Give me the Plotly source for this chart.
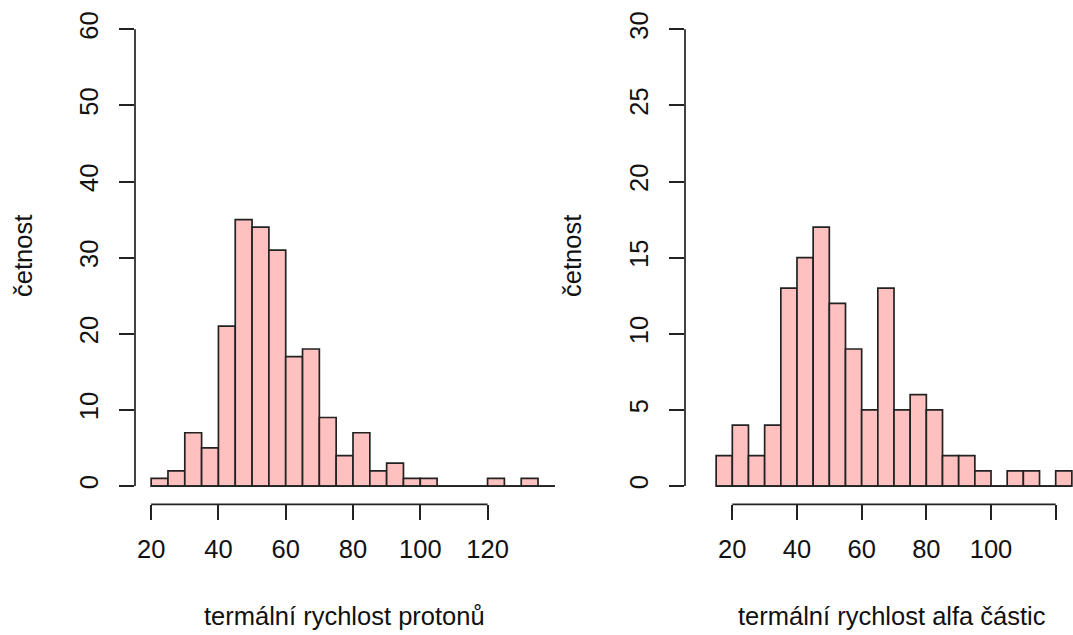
import plotly.graph_objects as go

# Histogram bins (width 5) and counts
proton_breaks = list(range(20, 145, 5))          # 20 .. 140
proton_counts = [1, 2, 7, 5, 21, 35, 34, 31, 17, 18, 9, 4,
                 7, 2, 3, 1, 1, 0, 0, 0, 1, 0, 1, 0]

alpha_breaks = list(range(15, 130, 5))           # 15 .. 125
alpha_counts = [2, 4, 2, 4, 13, 15, 17, 12, 9, 5, 13, 5,
                6, 5, 2, 2, 1, 0, 1, 1, 0, 1]

proton_xticks = [20, 40, 60, 80, 100, 120]
proton_xlabels = ["20", "40", "60", "80", "100", "120"]
proton_yticks = [0, 10, 20, 30, 40, 50, 60]

alpha_xticks = [20, 40, 60, 80, 100, 120]
alpha_xlabels = ["20", "40", "60", "80", "100", ""]
alpha_yticks = [0, 5, 10, 15, 20, 25, 30]

proton_xlab = "termální rychlost protonů"
alpha_xlab = "termální rychlost alfa částic"
ylab = "četnost"

W, H = 1073, 635
FONT = "Liberation Sans, Arial, sans-serif"
FS = 25.5
INK = "#222222"
TXT = "#111111"
LW = 1.7
FILL = "#FFC0C0"

# plot regions in pixels
L_X0, L_X1 = 135, 571
R_X0, R_X1 = 685, 1073
Y_TOP, Y_BOT = 11, 504.3

def px(xp):
    return xp / W

def py(yp):
    return 1 - yp / H

ydom = [py(Y_BOT), py(Y_TOP)]

def centers(breaks):
    return [(a + b) / 2 for a, b in zip(breaks[:-1], breaks[1:])]

fig = go.Figure()

bar_style = dict(color=FILL, line=dict(color=INK, width=LW))

fig.add_trace(go.Bar(x=centers(proton_breaks), y=proton_counts, width=5,
                     marker=bar_style, xaxis="x", yaxis="y"))
fig.add_trace(go.Scatter(x=[proton_breaks[0], proton_breaks[-1]], y=[0, 0],
                         mode="lines", line=dict(color=INK, width=LW),
                         xaxis="x", yaxis="y"))

fig.add_trace(go.Bar(x=centers(alpha_breaks), y=alpha_counts, width=5,
                     marker=bar_style, xaxis="x2", yaxis="y2"))
fig.add_trace(go.Scatter(x=[alpha_breaks[0], alpha_breaks[-1]], y=[0, 0],
                         mode="lines", line=dict(color=INK, width=LW),
                         xaxis="x2", yaxis="y2"))

tick_common = dict(showgrid=False, zeroline=False, showline=False,
                   ticks="outside", ticklen=15, tickwidth=LW, tickcolor=INK,
                   tickfont=dict(family=FONT, size=FS, color=TXT),
                   fixedrange=True)

fig.update_layout(
    width=W, height=H,
    margin=dict(l=0, r=0, t=0, b=0),
    paper_bgcolor="white", plot_bgcolor="white",
    showlegend=False,
    font=dict(family=FONT, size=FS, color=TXT),
    xaxis=dict(domain=[px(L_X0), px(L_X1)], range=[15.2, 144.8],
               tickmode="array", tickvals=proton_xticks, ticktext=proton_xlabels,
               ticklabelstandoff=7, anchor="y", **tick_common),
    yaxis=dict(domain=ydom, range=[-2.4, 62.4],
               tickmode="array", tickvals=proton_yticks, tickangle=-90,
               ticklabelstandoff=11, anchor="x", **tick_common),
    xaxis2=dict(domain=[px(R_X0), px(R_X1)], range=[5.37, 125.35],
                tickmode="array", tickvals=alpha_xticks, ticktext=alpha_xlabels,
                ticklabelstandoff=7, anchor="y2", **tick_common),
    yaxis2=dict(domain=ydom, range=[-1.2, 31.2],
                tickmode="array", tickvals=alpha_yticks, tickangle=-90,
                ticklabelstandoff=11, anchor="x2", **tick_common),
)

# axis lines spanning only the first..last tick, as in base R graphics
line = dict(color=INK, width=LW)
fig.add_shape(type="line", xref="x", yref="paper",
              x0=proton_xticks[0], x1=proton_xticks[-1], y0=ydom[0], y1=ydom[0], line=line)
fig.add_shape(type="line", xref="paper", yref="y",
              x0=px(L_X0), x1=px(L_X0), y0=proton_yticks[0], y1=proton_yticks[-1], line=line)
fig.add_shape(type="line", xref="x2", yref="paper",
              x0=alpha_xticks[0], x1=alpha_xticks[-1], y0=ydom[0], y1=ydom[0], line=line)
fig.add_shape(type="line", xref="paper", yref="y2",
              x0=px(R_X0), x1=px(R_X0), y0=alpha_yticks[0], y1=alpha_yticks[-1], line=line)

# axis titles
title_font = dict(family=FONT, size=FS, color=TXT)
fig.add_annotation(text=proton_xlab, x=px(344), y=py(616), xref="paper", yref="paper",
                   showarrow=False, xanchor="center", yanchor="middle", font=title_font)
fig.add_annotation(text=alpha_xlab, x=px(892), y=py(616), xref="paper", yref="paper",
                   showarrow=False, xanchor="center", yanchor="middle", font=title_font)
fig.add_annotation(text=ylab, x=px(23), y=py(256), xref="paper", yref="paper",
                   showarrow=False, xanchor="center", yanchor="middle", textangle=-90,
                   font=title_font)
fig.add_annotation(text=ylab, x=px(572), y=py(256), xref="paper", yref="paper",
                   showarrow=False, xanchor="center", yanchor="middle", textangle=-90,
                   font=title_font)

fig.write_html("out.html")
